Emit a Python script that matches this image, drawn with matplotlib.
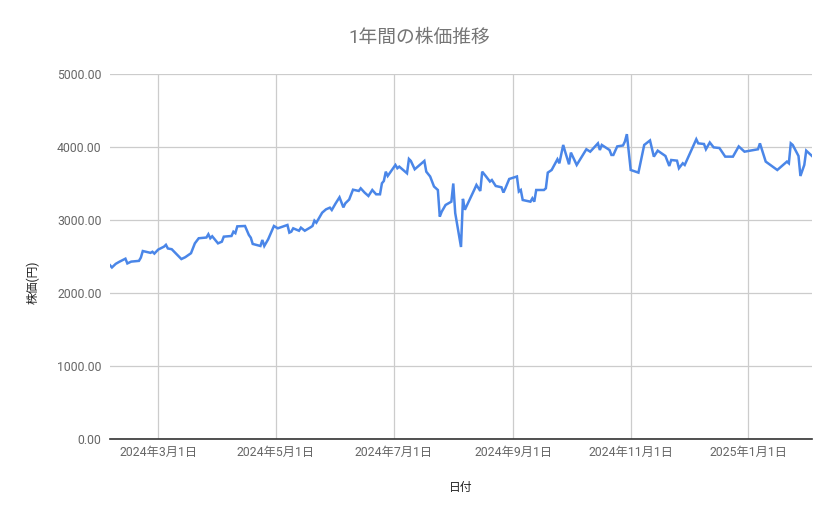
import matplotlib
matplotlib.use('Agg')
import matplotlib.pyplot as plt
import pandas as pd

# 日付と株価
dates = [
    "2024-02-05", "2024-02-06", "2024-02-08", "2024-02-10", "2024-02-13", "2024-02-14",
    "2024-02-16", "2024-02-20", "2024-02-21", "2024-02-22", "2024-02-26", "2024-02-27",
    "2024-02-28", "2024-03-01", "2024-03-04", "2024-03-05", "2024-03-06", "2024-03-08",
    "2024-03-11", "2024-03-13", "2024-03-15", "2024-03-18", "2024-03-20", "2024-03-22",
    "2024-03-25", "2024-03-26", "2024-03-27", "2024-03-28", "2024-03-29", "2024-04-01",
    "2024-04-03", "2024-04-04", "2024-04-08", "2024-04-09", "2024-04-10", "2024-04-11",
    "2024-04-15", "2024-04-17", "2024-04-18", "2024-04-19", "2024-04-23", "2024-04-24",
    "2024-04-25", "2024-04-27", "2024-04-30", "2024-05-02", "2024-05-07", "2024-05-08",
    "2024-05-09", "2024-05-10", "2024-05-13", "2024-05-14", "2024-05-16", "2024-05-19",
    "2024-05-20", "2024-05-21", "2024-05-22", "2024-05-25", "2024-05-27", "2024-05-29",
    "2024-05-30", "2024-06-01", "2024-06-03", "2024-06-05", "2024-06-06", "2024-06-08",
    "2024-06-10", "2024-06-13", "2024-06-14", "2024-06-16", "2024-06-18", "2024-06-20",
    "2024-06-22", "2024-06-24", "2024-06-25", "2024-06-26", "2024-06-27", "2024-06-28",
    "2024-07-02", "2024-07-03", "2024-07-04", "2024-07-08", "2024-07-09", "2024-07-10",
    "2024-07-12", "2024-07-17", "2024-07-18", "2024-07-20", "2024-07-22", "2024-07-24",
    "2024-07-25", "2024-07-26", "2024-07-28", "2024-07-31", "2024-08-01", "2024-08-02",
    "2024-08-05", "2024-08-06", "2024-08-07", "2024-08-09", "2024-08-12", "2024-08-13",
    "2024-08-15", "2024-08-16", "2024-08-18", "2024-08-20", "2024-08-21", "2024-08-23",
    "2024-08-26", "2024-08-27", "2024-08-28", "2024-08-30", "2024-09-03", "2024-09-04",
    "2024-09-05", "2024-09-06", "2024-09-10", "2024-09-11", "2024-09-12", "2024-09-13",
    "2024-09-17", "2024-09-18", "2024-09-19", "2024-09-21", "2024-09-24", "2024-09-25",
    "2024-09-27", "2024-09-28", "2024-09-30", "2024-10-01", "2024-10-04", "2024-10-09",
    "2024-10-11", "2024-10-15", "2024-10-16", "2024-10-17", "2024-10-21", "2024-10-22",
    "2024-10-23", "2024-10-25", "2024-10-28", "2024-10-29", "2024-10-30", "2024-11-01",
    "2024-11-05", "2024-11-08", "2024-11-11", "2024-11-13", "2024-11-15", "2024-11-19",
    "2024-11-21", "2024-11-22", "2024-11-25", "2024-11-26", "2024-11-28", "2024-11-29",
    "2024-12-05", "2024-12-06", "2024-12-09", "2024-12-10", "2024-12-12", "2024-12-14",
    "2024-12-17", "2024-12-20", "2024-12-24", "2024-12-27", "2024-12-30", "2025-01-06",
    "2025-01-07", "2025-01-10", "2025-01-16", "2025-01-21", "2025-01-22", "2025-01-23",
    "2025-01-24", "2025-01-27", "2025-01-28", "2025-01-30", "2025-01-31", "2025-02-03",
]
prices = [
    2380, 2350, 2400, 2430, 2470, 2405,
    2430, 2440, 2485, 2575, 2550, 2565,
    2540, 2595, 2635, 2660, 2610, 2600,
    2520, 2465, 2490, 2545, 2680, 2750,
    2758, 2760, 2805, 2750, 2777, 2680,
    2703, 2772, 2781, 2840, 2820, 2913,
    2918, 2795, 2758, 2672, 2644, 2726,
    2644, 2735, 2918, 2886, 2932, 2827,
    2840, 2886, 2853, 2895, 2853, 2900,
    2918, 2991, 2963, 3100, 3146, 3169,
    3137, 3228, 3311, 3173, 3228, 3280,
    3415, 3398, 3434, 3376, 3329, 3411,
    3352, 3352, 3503, 3535, 3662, 3603,
    3754, 3709, 3731, 3640, 3836, 3809,
    3695, 3809, 3662, 3596, 3459, 3411,
    3046, 3114, 3206, 3251, 3500, 3095,
    2630, 3290, 3140, 3251, 3421, 3480,
    3398, 3662, 3596, 3527, 3548, 3466,
    3448, 3376, 3434, 3562, 3596, 3390,
    3411, 3274, 3251, 3297, 3251, 3411,
    3411, 3434, 3649, 3685, 3832, 3777,
    4028, 3936, 3763, 3923, 3754, 3969,
    3936, 4050, 3959, 4028, 3959, 3891,
    3891, 4008, 4021, 4076, 4176, 3685,
    3649, 4028, 4090, 3868, 3950, 3877,
    3740, 3822, 3813, 3709, 3777, 3754,
    4106, 4050, 4041, 3969, 4062, 3995,
    3986, 3868, 3868, 4008, 3936, 3969,
    4050, 3800, 3685, 3800, 3777, 4050,
    4028, 3877, 3603, 3754, 3950, 3877,
]
tick_dates = ["2024-03-01", "2024-05-01", "2024-07-01", "2024-09-01", "2024-11-01", "2025-01-01"]
tick_labels = ["2024年3月1日", "2024年5月1日", "2024年7月1日", "2024年9月1日", "2024年11月1日", "2025年1月1日"]
y_ticks = [0, 1000, 2000, 3000, 4000, 5000]

plt.rcParams['font.family'] = ['Roboto', 'Noto Sans CJK JP', 'DejaVu Sans']

x = pd.to_datetime(dates)
fig = plt.figure(figsize=(8.39, 5.19), dpi=100)
ax = fig.add_axes([110/839, 1-439/519, (812-110)/839, (439-74)/519])

ax.plot(x, prices, color='#4a86e8', linewidth=1.8, solid_joinstyle='miter')

ax.set_xlim(x[0], x[-1])
ax.set_ylim(0, 5000)
ax.set_yticks(y_ticks)
ax.set_yticklabels([f"{v:.2f}" for v in y_ticks])
ax.set_xticks(pd.to_datetime(tick_dates))
ax.set_xticklabels(tick_labels)

ax.grid(True, color='#cccccc', linewidth=0.9)
ax.set_axisbelow(True)
for s in ['top', 'right', 'left']:
    ax.spines[s].set_visible(False)
ax.spines['bottom'].set_color('#333333')
ax.spines['bottom'].set_linewidth(1.2)
ax.spines['bottom'].set_zorder(3)
ax.tick_params(axis='both', length=0, colors='#666666', labelsize=8.8)
ax.tick_params(axis='y', pad=6)
ax.tick_params(axis='x', pad=5)

fig.text(0.5, 1-38/519, "1年間の株価推移", ha='center', va='center', fontsize=13.5, color='#757575')
fig.text(461/839, 1-487/519, "日付", ha='center', va='center', fontsize=8.5, color='#222222')
fig.text(33/839, 1-282/519, "株価(円)", ha='center', va='center', rotation=90, fontsize=8.5, color='#222222')

fig.savefig("out.png", dpi=100)
